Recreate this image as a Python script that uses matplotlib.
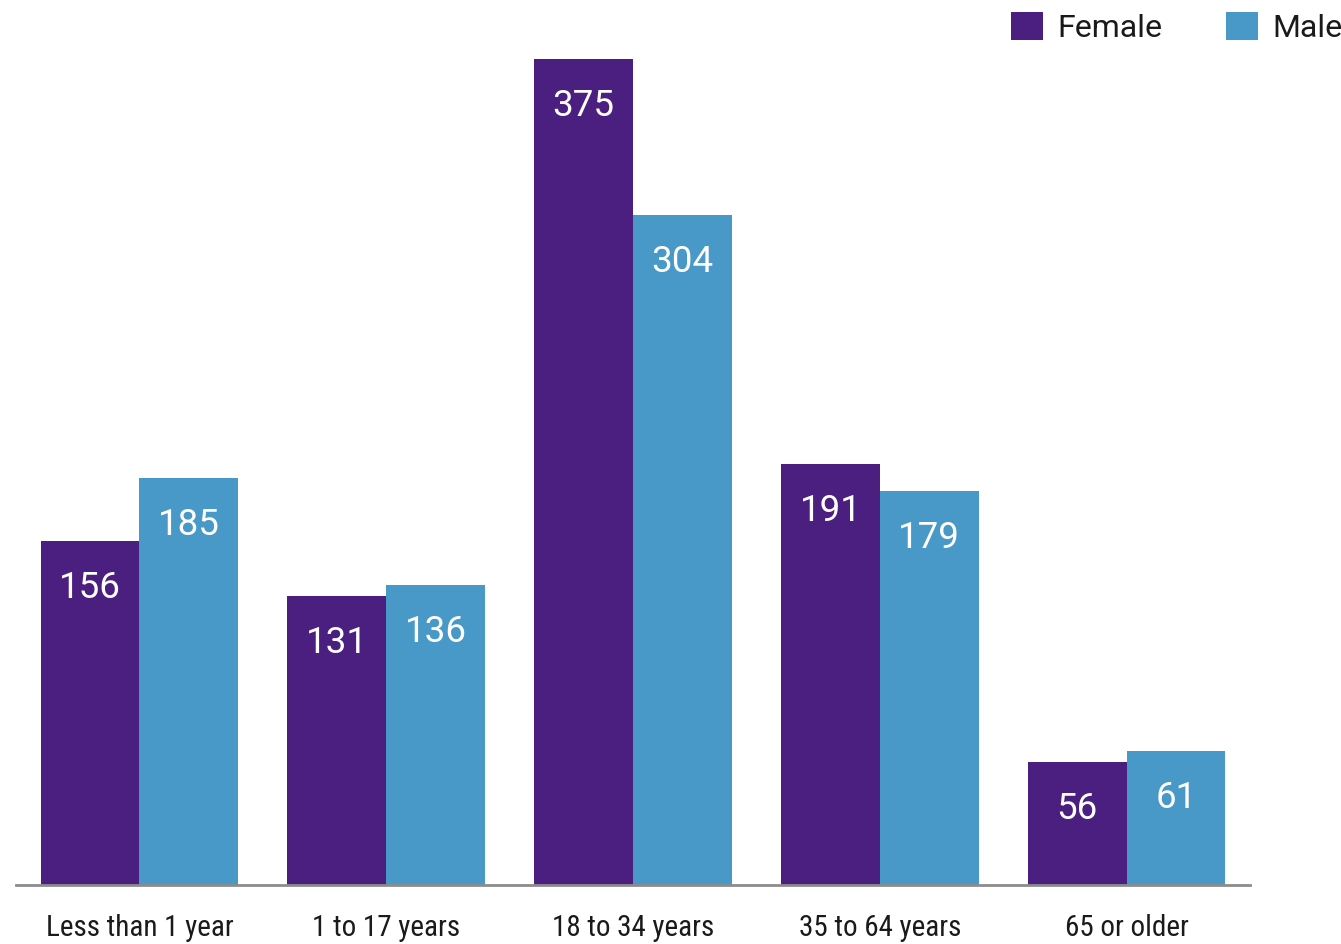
import matplotlib
matplotlib.use("Agg")
import matplotlib.pyplot as plt
from matplotlib import font_manager
import numpy as np

categories = ["Less than 1 year", "1 to 17 years", "18 to 34 years", "35 to 64 years", "65 or older"]
female = [156, 131, 375, 191, 56]
male = [185, 136, 304, 179, 61]

purple = "#4b1f80"
blue = "#4899c8"

names = {f.name for f in font_manager.fontManager.ttflist}
cond = "Roboto Condensed" if "Roboto Condensed" in names else "Roboto"

fig = plt.figure(figsize=(13.41, 9.44), dpi=100)
ax = fig.add_axes([16 / 1341, 59 / 944, 1234 / 1341, 826 / 944])

x = np.arange(len(categories))
w = 0.4
b1 = ax.bar(x - w / 2, female, w, color=purple, label="Female")
b2 = ax.bar(x + w / 2, male, w, color=blue, label="Male")

for bars in (b1, b2):
    for r in bars:
        ax.annotate(str(int(r.get_height())), (r.get_x() + r.get_width() / 2, r.get_height()),
                    xytext=(0, -47 * 0.72), textcoords="offset points",
                    ha="center", va="center", color="white", fontsize=26.5, family="Roboto")

ax.set_xlim(-0.5, 4.5)
ax.set_ylim(0, 375)
for s in ["top", "right", "left"]:
    ax.spines[s].set_visible(False)
ax.spines["bottom"].set_color("#8c8c8c")
ax.spines["bottom"].set_linewidth(2)
ax.set_yticks([])
ax.set_xticks(x)
ax.set_xticklabels(categories, family=cond, fontsize=21, color="#1a1a1a")
ax.tick_params(axis="x", length=0, pad=21)

fig.legend(loc="upper right", bbox_to_anchor=(1.0 + 30 / 1341, 1.0 + 17 / 944), ncol=2, frameon=False,
           handlelength=1.0, handleheight=1.0, handletextpad=0.45, columnspacing=2.0,
           prop={"family": "Roboto", "size": 23}, labelcolor="#1a1a1a")

fig.savefig("out.png", dpi=100)
